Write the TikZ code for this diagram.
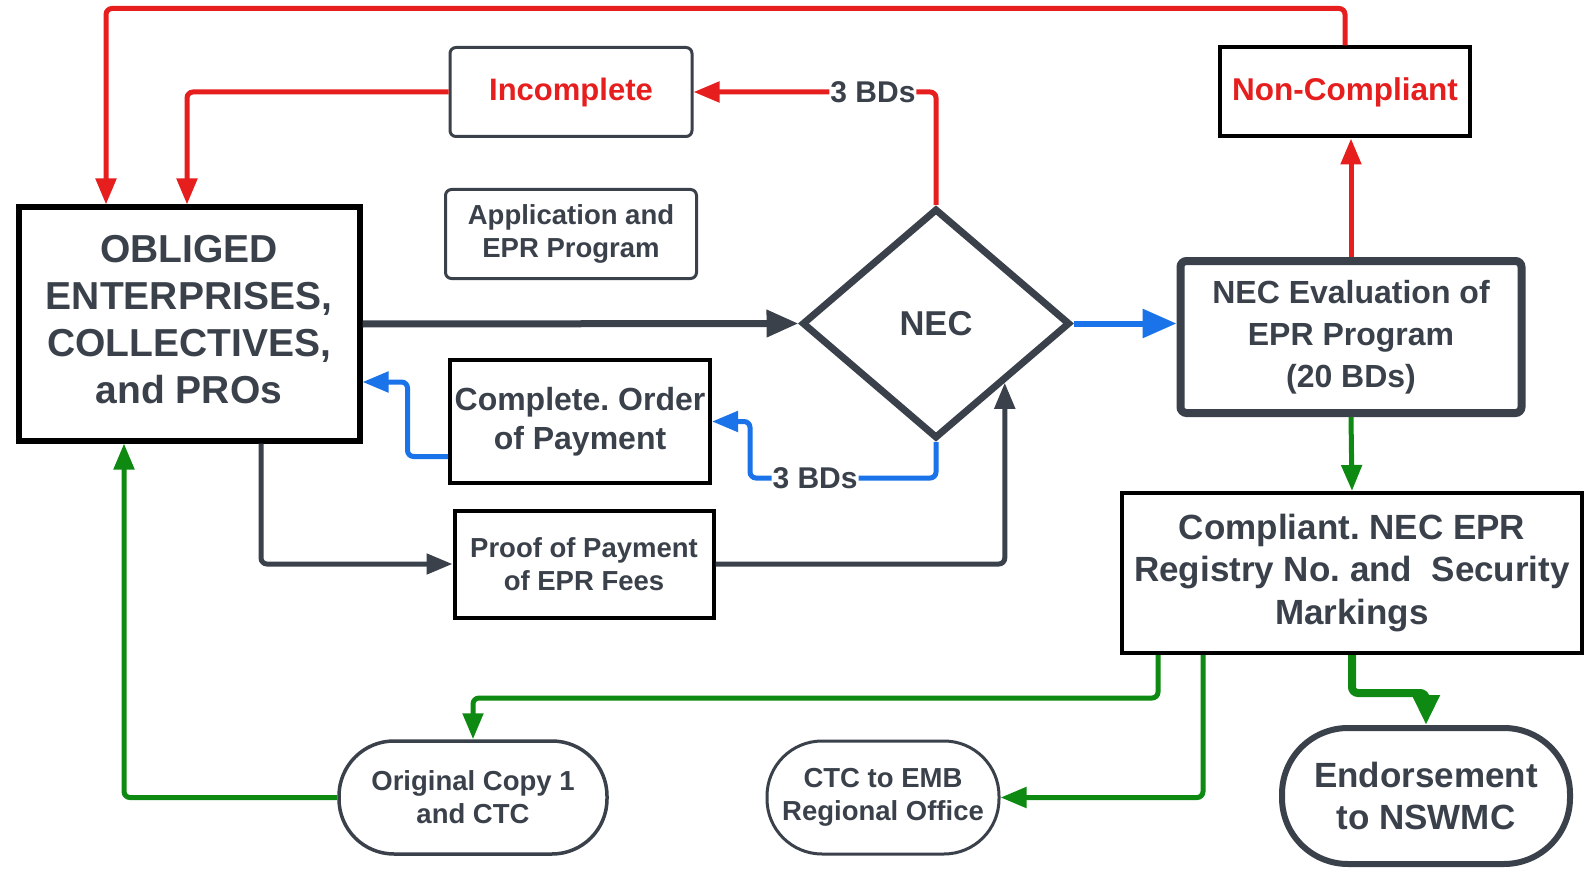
\documentclass[tikz,border=0pt]{standalone}
\usepackage{fontspec}
\setmainfont{Liberation Sans}
\usepackage{tikz}
\usetikzlibrary{shapes.geometric,arrows.meta}
\definecolor{epred}{HTML}{E61E1E}
\definecolor{epblue}{HTML}{1A73E8}
\definecolor{epgreen}{HTML}{0E8A12}
\definecolor{epgray}{HTML}{3A414A}
\newcommand{\fsz}[2]{\fontsize{#1}{#2}\selectfont\bfseries}
\tikzstyle{flowbox}=[draw=black,line width=4pt,fill=white,align=center,inner sep=2pt,text=epgray]
\tikzstyle{softbox}=[draw=epgray,line width=3pt,rounded corners=6pt,fill=white,align=center,inner sep=2pt,text=epgray]
\tikzstyle{pill}=[draw=epgray,line width=3.5pt,fill=white,align=center,inner sep=2pt,text=epgray]
\tikzstyle{link}=[line width=5pt,rounded corners=6pt,-{Triangle[length=26pt,width=20pt]}]
\tikzstyle{bdlabel}=[fill=white,inner sep=1pt,text=epgray,font=\fsz{30}{36}]
\frenchspacing

\begin{document}
\begin{tikzpicture}[x=1pt,y=-1pt]
    \useasboundingbox[fill=white] (0,0) rectangle (1585,869);

    \node[flowbox, line width=6pt, minimum width=341pt, minimum height=233pt, font=\fsz{39}{47}] (obliged) at (189,324) {\raisebox{7pt}{\begin{tabular}{@{}c@{}}OBLIGED\\ENTERPRISES,\\COLLECTIVES,\\and PROs\end{tabular}}};
    
    \node[softbox, minimum width=242pt, minimum height=89pt, text=epred, font=\fsz{31}{37}] (incomplete) at (571,92) {Incomplete};
    
    \node[softbox, minimum width=251pt, minimum height=89pt, font=\fsz{27.5}{33}] (application) at (571,234) {Application and\\EPR Program};
    
    \node[diamond, draw=epgray, line width=7pt, fill=white, aspect=1.165, minimum width=268pt, minimum height=230pt, inner sep=0pt, text=epgray, font=\fsz{34.5}{40}] (diamond) at (936,323.5) {NEC};
    
    \node[softbox, line width=8pt, minimum width=341pt, minimum height=152pt, font=\fsz{32}{42}] (eval) at (1351,337) {NEC Evaluation of\\EPR Program\\(20 BDs)};
    
    \node[flowbox, minimum width=250pt, minimum height=89pt, text=epred, font=\fsz{31.5}{37}] (noncomp) at (1345,92) {Non-Compliant};
    
    \node[flowbox, minimum width=260pt, minimum height=123pt, font=\fsz{32}{38.5}] (complete) at (580,421.5) {Complete. Order\\of Payment};
    
    \node[flowbox, minimum width=259pt, minimum height=107pt, font=\fsz{27.5}{33}] (proof) at (584,564) {Proof of Payment\\of EPR Fees};
    
    \node[flowbox, minimum width=460pt, minimum height=160pt, font=\fsz{35}{42.5}] (compliant) at (1352,573) {Compliant. NEC EPR\\Registry No. and\ \ Security\\Markings};
    
    \node[pill, rounded corners=55pt, minimum width=268pt, minimum height=113pt, font=\fsz{27.5}{33}] (original) at (473,797.5) {Original Copy 1\\and CTC};
    
    \node[pill, line width=3pt, rounded corners=55pt, minimum width=232pt, minimum height=113pt, font=\fsz{27.5}{33}] (ctc) at (883,797.5) {CTC to EMB\\Regional Office};
    
    \node[pill, line width=6pt, rounded corners=66pt, minimum width=288pt, minimum height=136pt, font=\fsz{35}{42}] (endorse) at (1426,796) {Endorsement\\to NSWMC};
    
    % return loops
    \draw[link,epred] (noncomp.north) -- ++(0,-37) -| ([xshift=-83pt]obliged.north);
    \draw[link,epred] (diamond.north) |- (incomplete.east) node[bdlabel,pos=0.63] {3 BDs};
    \draw[link,epred] (incomplete.west) -| ([xshift=-2pt]obliged.north);
    
    % submission
    \draw[link,epgray,line width=7pt,-{Triangle[length=32pt,width=26pt]}] (obliged.east) -- (diamond.west);
    \draw[link,epblue,line width=6pt,-{Triangle[length=34pt,width=28pt]}] (diamond.east) -- (diamond.east -| eval.west);
    \draw[link,epblue] (diamond.south) -- ++(0,36) -| ([xshift=38pt]complete.east) node[bdlabel,pos=0.325] {3 BDs} -- (complete.east);
    \draw[link,epblue] ([yshift=-35pt]complete.west) -| ([xshift=45pt,yshift=-58pt]obliged.east) -- ([yshift=-58pt]obliged.east);
    \draw[link,epgray] ([xshift=72pt]obliged.south) |- (proof.west);
    \draw[link,epgray] (proof.east) -| (diamond.south east);
    
    % evaluation results
    \draw[link,epred] (eval.north) -- (eval.north |- noncomp.south);
    \draw[link,epgreen] (eval.south) -- (compliant.north);
    \draw[link,epgreen] ([xshift=-194pt]compliant.south) -- ++(0,43) -| (original.north);
    \draw[link,epgreen] ([xshift=-149pt]compliant.south) |- (ctc.east);
    \draw[link,epgreen,line width=8pt,-{Triangle[length=30pt,width=26pt]}] (compliant.south) -- ++(0,38) -| (endorse.north);
    \draw[link,epgreen] (original.west) -| ([xshift=-65pt]obliged.south);
\end{tikzpicture}
\end{document}
